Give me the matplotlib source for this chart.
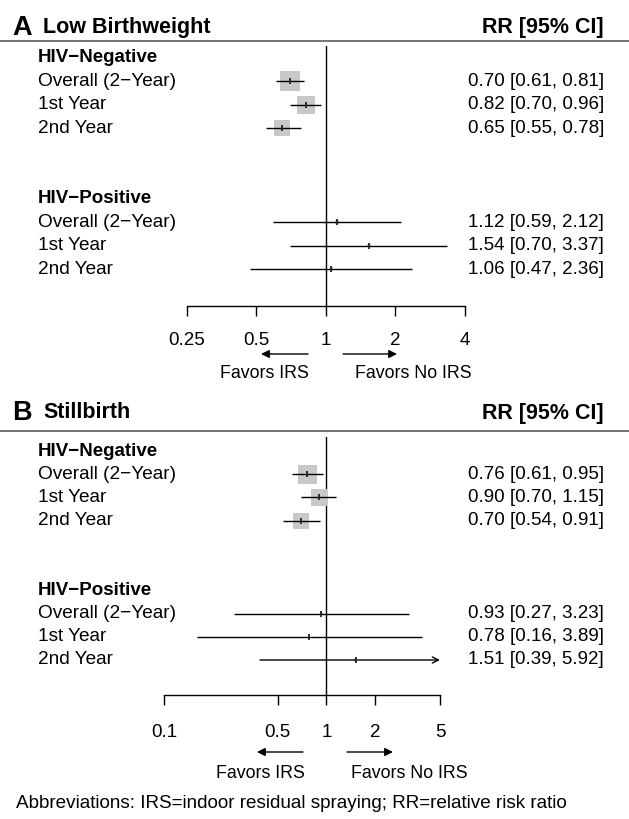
import numpy as np
import matplotlib
matplotlib.use("Agg")
import matplotlib.pyplot as plt
from matplotlib import transforms
from matplotlib.lines import Line2D
from matplotlib.ticker import NullLocator

plt.rcParams['font.family'] = ['Liberation Sans', 'DejaVu Sans']

# ---------------- data ----------------
group_labels = ["HIV−Negative", "HIV−Positive"]
row_labels = ["Overall (2−Year)", "1st Year", "2nd Year"]

lbw_neg_rr = [0.70, 0.82, 0.65]
lbw_neg_lo = [0.61, 0.70, 0.55]
lbw_neg_hi = [0.81, 0.96, 0.78]
lbw_pos_rr = [1.12, 1.54, 1.06]
lbw_pos_lo = [0.59, 0.70, 0.47]
lbw_pos_hi = [2.12, 3.37, 2.36]

sb_neg_rr = [0.76, 0.90, 0.70]
sb_neg_lo = [0.61, 0.70, 0.54]
sb_neg_hi = [0.95, 1.15, 0.91]
sb_pos_rr = [0.93, 0.78, 1.51]
sb_pos_lo = [0.27, 0.16, 0.39]
sb_pos_hi = [3.23, 3.89, 5.92]

lbw_ticks = [0.25, 0.5, 1, 2, 4]
lbw_ticklabels = ["0.25", "0.5", "1", "2", "4"]
sb_ticks = [0.1, 0.5, 1, 2, 5]
sb_ticklabels = ["0.1", "0.5", "1", "2", "5"]

# ---------------- layout helpers ----------------
W, H = 629, 819
fig = plt.figure(figsize=(W / 100, H / 100), dpi=100)
fig.patch.set_facecolor("white")


def fx(px):
    return px / W


def fy(py):
    return 1 - py / H


def draw_panel(letter, title, neg, pos, ticks, ticklabels, L):
    x0, x1 = L["x0"], L["x1"]
    ax = fig.add_axes([fx(x0), fy(L["y_axis"]), fx(x1) - fx(x0),
                       (L["y_axis"] - L["y_top"]) / H])
    ax.set_xscale("log")
    ax.set_xlim(ticks[0], ticks[-1])
    sp = (L["row1"] - L["row10"]) / 9.0
    ax.set_ylim(1 - (L["y_axis"] - L["row1"]) / sp,
                10 + (L["row10"] - L["y_top"]) / sp)
    ax.patch.set_visible(False)
    for s in ["top", "left", "right"]:
        ax.spines[s].set_visible(False)
    ax.spines["bottom"].set_linewidth(1.0)
    ax.set_xticks(ticks)
    ax.set_xticklabels(ticklabels)
    ax.xaxis.set_minor_locator(NullLocator())
    ax.set_yticks([])
    ax.tick_params(axis="x", direction="out", length=L["ticklen"], width=1.0,
                   pad=L["pad"], labelsize=13.5)

    ax.axvline(1, color="black", lw=1.0, zorder=1)

    # weights from CI width (inverse standard error)
    all_lo = np.array(neg[1] + pos[1])
    all_hi = np.array(neg[2] + pos[2])
    se = (np.log(all_hi) - np.log(all_lo)) / (2 * 1.96)
    w = 1 / se
    size_px = L["box_max"] * w / w.max()

    all_rr = np.array(neg[0] + pos[0])
    rows = np.array([9, 8, 7, 3, 2, 1])
    xmin, xmax = ticks[0], ticks[-1]

    ax.scatter(all_rr, rows, marker="s", s=(size_px * 0.72) ** 2,
               color="#c8c8c8", edgecolors="none", zorder=2)
    for rr, lo, hi, r in zip(all_rr, all_lo, all_hi, rows):
        lo_c, hi_c = max(lo, xmin), min(hi, xmax)
        if hi > xmax:
            ax.annotate("", xy=(hi_c, r), xytext=(lo_c, r),
                        arrowprops=dict(arrowstyle="->", lw=1.0, color="black",
                                        shrinkA=0, shrinkB=0, mutation_scale=11),
                        zorder=3)
        else:
            ax.plot([lo_c, hi_c], [r, r], color="black", lw=1.0, zorder=3,
                    solid_capstyle="butt")
    ax.plot(all_rr, rows, ls="none", marker="|", ms=4.5, mew=1.3,
            color="#222222", zorder=4)

    # left labels & right numbers
    tr = transforms.blended_transform_factory(fig.transFigure, ax.transData)
    for g, hdr_row, data, rws in [(group_labels[0], 10, neg, [9, 8, 7]),
                                  (group_labels[1], 4, pos, [3, 2, 1])]:
        ax.text(fx(38), hdr_row, g, transform=tr, ha="left", va="center",
                fontsize=13.5, fontweight="bold")
        for lab, rr, lo, hi, r in zip(row_labels, data[0], data[1], data[2], rws):
            ax.text(fx(38), r, lab, transform=tr, ha="left", va="center",
                    fontsize=13.7)
            ax.text(fx(604), r, f"{rr:.2f} [{lo:.2f}, {hi:.2f}]", transform=tr,
                    ha="right", va="center", fontsize=13.5)

    # title row
    fig.text(fx(12), fy(L["title_y"]), letter, fontsize=19.5, fontweight="bold",
             ha="left", va="center")
    fig.text(fx(43), fy(L["title_y"]), title, fontsize=15.5, fontweight="bold",
             ha="left", va="center")
    fig.text(fx(604), fy(L["title_y"]), "RR [95% CI]", fontsize=15.5,
             fontweight="bold", ha="right", va="center")
    fig.add_artist(Line2D([0, 1], [fy(L["hline"])] * 2, transform=fig.transFigure,
                          color="#6a6a6a", lw=1.3))

    # favours arrows
    ay = fy(L["arrow_y"])
    for (xa, xb) in [L["arrow_left"], L["arrow_right"]]:
        fig.add_artist(matplotlib.patches.FancyArrowPatch(
            (fx(xa), ay), (fx(xb), ay), transform=fig.transFigure,
            arrowstyle="-|>", mutation_scale=12, lw=1.0, color="black",
            shrinkA=0, shrinkB=0))
    fig.text(fx(L["fav_left"]), fy(L["fav_y"]), "Favors IRS", ha="center",
             va="center", fontsize=12.8)
    fig.text(fx(L["fav_right"]), fy(L["fav_y"]), "Favors No IRS", ha="center",
             va="center", fontsize=12.8)
    return ax


layout_a = dict(x0=186.5, x1=464.5, y_top=46, y_axis=306, row10=58, row1=269,
                ticklen=7, pad=12, box_max=20, title_y=28, hline=41,
                arrow_y=354, arrow_left=(308, 261), arrow_right=(343, 397),
                fav_y=374, fav_left=264, fav_right=413)
layout_b = dict(x0=164, x1=440, y_top=437, y_axis=695, row10=451, row1=660,
                ticklen=7.5, pad=13.5, box_max=19, title_y=413, hline=431,
                arrow_y=752, arrow_left=(303, 257), arrow_right=(347, 393),
                fav_y=773, fav_left=260, fav_right=409)

draw_panel("A", "Low Birthweight",
           (lbw_neg_rr, lbw_neg_lo, lbw_neg_hi),
           (lbw_pos_rr, lbw_pos_lo, lbw_pos_hi),
           lbw_ticks, lbw_ticklabels, layout_a)
draw_panel("B", "Stillbirth",
           (sb_neg_rr, sb_neg_lo, sb_neg_hi),
           (sb_pos_rr, sb_pos_lo, sb_pos_hi),
           sb_ticks, sb_ticklabels, layout_b)

fig.text(fx(16), fy(804),
         "Abbreviations: IRS=indoor residual spraying; RR=relative risk ratio",
         ha="left", va="center", fontsize=13.6)

fig.savefig("out.png", dpi=100, facecolor="white")
